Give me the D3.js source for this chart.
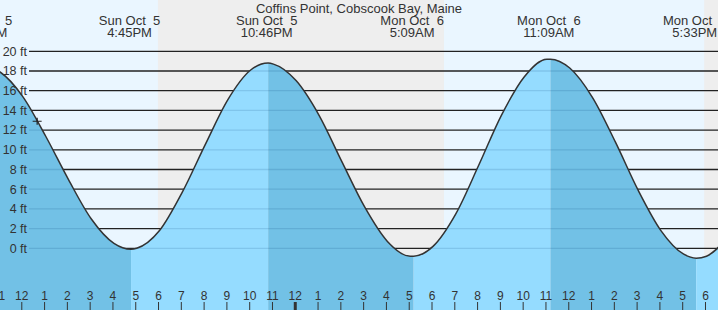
<!DOCTYPE html>
<html>
<head>
<meta charset="utf-8">
<script src="https://cdn.jsdelivr.net/npm/d3@7"></script>
<style>
  html, body { margin: 0; padding: 0; background: #fff; }
  svg { display: block; font-family: "Liberation Sans", Arial, sans-serif; }
</style>
</head>
<body>
<svg id="chart" width="718" height="310"></svg>
<script>
// times are hours since Sun Oct 5 00:00
const title = "Coffins Point, Cobscook Bay, Maine";

// high / low tide events
const extremeTimes = [10.25, 16.75, 22.767, 29.15, 35.15, 41.55];
const extremeHeights = [18.5, -0.1, 18.8, -0.8, 19.2, -1.0];
const extremeDates = ["Sun Oct  5", "Sun Oct  5", "Sun Oct  5", "Mon Oct  6", "Mon Oct  6", "Mon Oct  6"];
const extremeLabels = ["10:15AM", "4:45PM", "10:46PM", "5:09AM", "11:09AM", "5:33PM"];

// hourly water levels (ft)
const hourTimes = [11, 12, 13, 14, 15, 16, 17, 18, 19, 20, 21, 22, 23, 24, 25, 26, 27, 28, 29,
                   30, 31, 32, 33, 34, 35, 36, 37, 38, 39, 40, 41, 42, 43];
const hourHeights = [17.9, 15.4, 11.4, 7.0, 3.0, 0.5, 0.0, 1.8, 5.7, 10.5, 15.1, 18.1, 18.7, 17.0, 13.5, 8.8, 4.2, 0.7, -0.8,
                     0.2, 3.5, 8.4, 13.5, 17.4, 19.2, 18.3, 15.3, 10.8, 5.9, 1.8, -0.6, -0.8, 1.3];

// sunrise / sunset
const nightStarts = [17.93, 41.90];
const nightEnds = [30.48, 43.0];

const nowTime = 12.63, nowHeight = 12.9; // "+" marker
const yTicks = d3.range(0, 21, 2);
const hourTicks = d3.range(11, 43);
const midnight = 24;

const W = 718, H = 310;
const svg = d3.select("#chart");

const x = d3.scaleLinear().domain([11.0, 42.505]).range([0, W]);
const y = d3.scaleLinear().domain([0, 20]).range([248.3, 51.3]);

const points = hourTimes.map((t, i) => [t, hourHeights[i]])
  .concat(extremeTimes.map((t, i) => [t, extremeHeights[i]]))
  .sort((a, b) => a[0] - b[0]);

const defs = svg.append("defs");
const below = d3.area().x(d => x(d[0])).y0(H).y1(d => y(d[1])).curve(d3.curveMonotoneX);
const above = d3.area().x(d => x(d[0])).y0(0).y1(d => y(d[1])).curve(d3.curveMonotoneX);
defs.append("clipPath").attr("id", "water").append("path").attr("d", below(points));
defs.append("clipPath").attr("id", "air").append("path").attr("d", above(points));

// day background, then night bands
svg.append("rect").attr("width", W).attr("height", H).attr("fill", "#eaf6ff");
svg.selectAll(".night").data(nightStarts).join("rect")
  .attr("class", "night")
  .attr("x", (d) => x(d))
  .attr("y", 0)
  .attr("width", (d, i) => x(nightEnds[i]) - x(d))
  .attr("height", H)
  .attr("fill", "#eeeeee");

// water, darker while falling, lighter while rising
const phases = extremeTimes.map((t, i) => ({
  from: t,
  to: i + 1 < extremeTimes.length ? extremeTimes[i + 1] : 43,
  falling: i + 1 < extremeTimes.length ? extremeHeights[i + 1] < extremeHeights[i] : extremeHeights[i] > 5
}));
svg.append("g").attr("clip-path", "url(#water)")
  .selectAll("rect").data(phases).join("rect")
  .attr("x", d => x(d.from))
  .attr("y", 0)
  .attr("width", d => x(d.to) - x(d.from))
  .attr("height", H)
  .attr("fill", d => d.falling ? "#72c1e6" : "#95dcff");

// grid lines: dark above water, faint under it
svg.append("g").attr("clip-path", "url(#air)")
  .selectAll("line").data(yTicks).join("line")
  .attr("x1", 29).attr("x2", W)
  .attr("y1", d => y(d)).attr("y2", d => y(d))
  .attr("stroke", "#222").attr("stroke-width", 1.3);
svg.append("g").attr("clip-path", "url(#water)")
  .selectAll("line").data(yTicks).join("line")
  .attr("x1", 29).attr("x2", W)
  .attr("y1", d => y(d)).attr("y2", d => y(d))
  .attr("stroke", "rgba(0,60,110,0.14)").attr("stroke-width", 1.3);

// tide curve
svg.append("path")
  .attr("d", d3.line().x(d => x(d[0])).y(d => y(d[1])).curve(d3.curveMonotoneX)(points))
  .attr("fill", "none").attr("stroke", "#333").attr("stroke-width", 1.5);

// y labels
svg.append("g").selectAll("text").data(yTicks).join("text")
  .attr("x", 27).attr("y", d => y(d)).attr("dy", "0.35em")
  .attr("text-anchor", "end").attr("font-size", 12.5).attr("fill", "#333")
  .text(d => d + " ft");

// hour axis along the bottom
const axis = svg.append("g")
  .attr("transform", `translate(-1.5,${H})`)
  .call(d3.axisTop(x).tickValues(hourTicks).tickSize(8).tickPadding(2)
    .tickFormat(h => (h % 12) || 12));
axis.select(".domain").remove();
axis.selectAll("text").attr("font-size", 12).attr("fill", "#333").attr("font-family", null);
axis.selectAll("line").attr("stroke", "#333")
  .attr("stroke-width", d => d === midnight ? 3 : 1);

// title and tide labels
svg.append("text").attr("x", W / 2).attr("y", 12.5).attr("text-anchor", "middle")
  .attr("font-size", 13).attr("fill", "#333").text(title);
const labels = svg.append("g").attr("transform", "translate(-1.5,0)")
  .selectAll("g").data(extremeTimes).join("g")
  .attr("transform", d => `translate(${x(d)},0)`);
labels.append("text").attr("y", 24.5).attr("text-anchor", "middle")
  .attr("font-size", 13).attr("fill", "#333")
  .attr("xml:space", "preserve").style("white-space", "pre")
  .text((d, i) => extremeDates[i]);
labels.append("text").attr("y", 36.5).attr("text-anchor", "middle")
  .attr("font-size", 13).attr("fill", "#333")
  .text((d, i) => extremeLabels[i]);

// current time marker
const nx = x(nowTime), ny = y(nowHeight);
svg.append("path")
  .attr("d", `M${nx - 4.5},${ny}H${nx + 4.5}M${nx},${ny - 3.5}V${ny + 3.5}`)
  .attr("stroke", "#222").attr("stroke-width", 1.2).attr("fill", "none");
</script>
</body>
</html>
